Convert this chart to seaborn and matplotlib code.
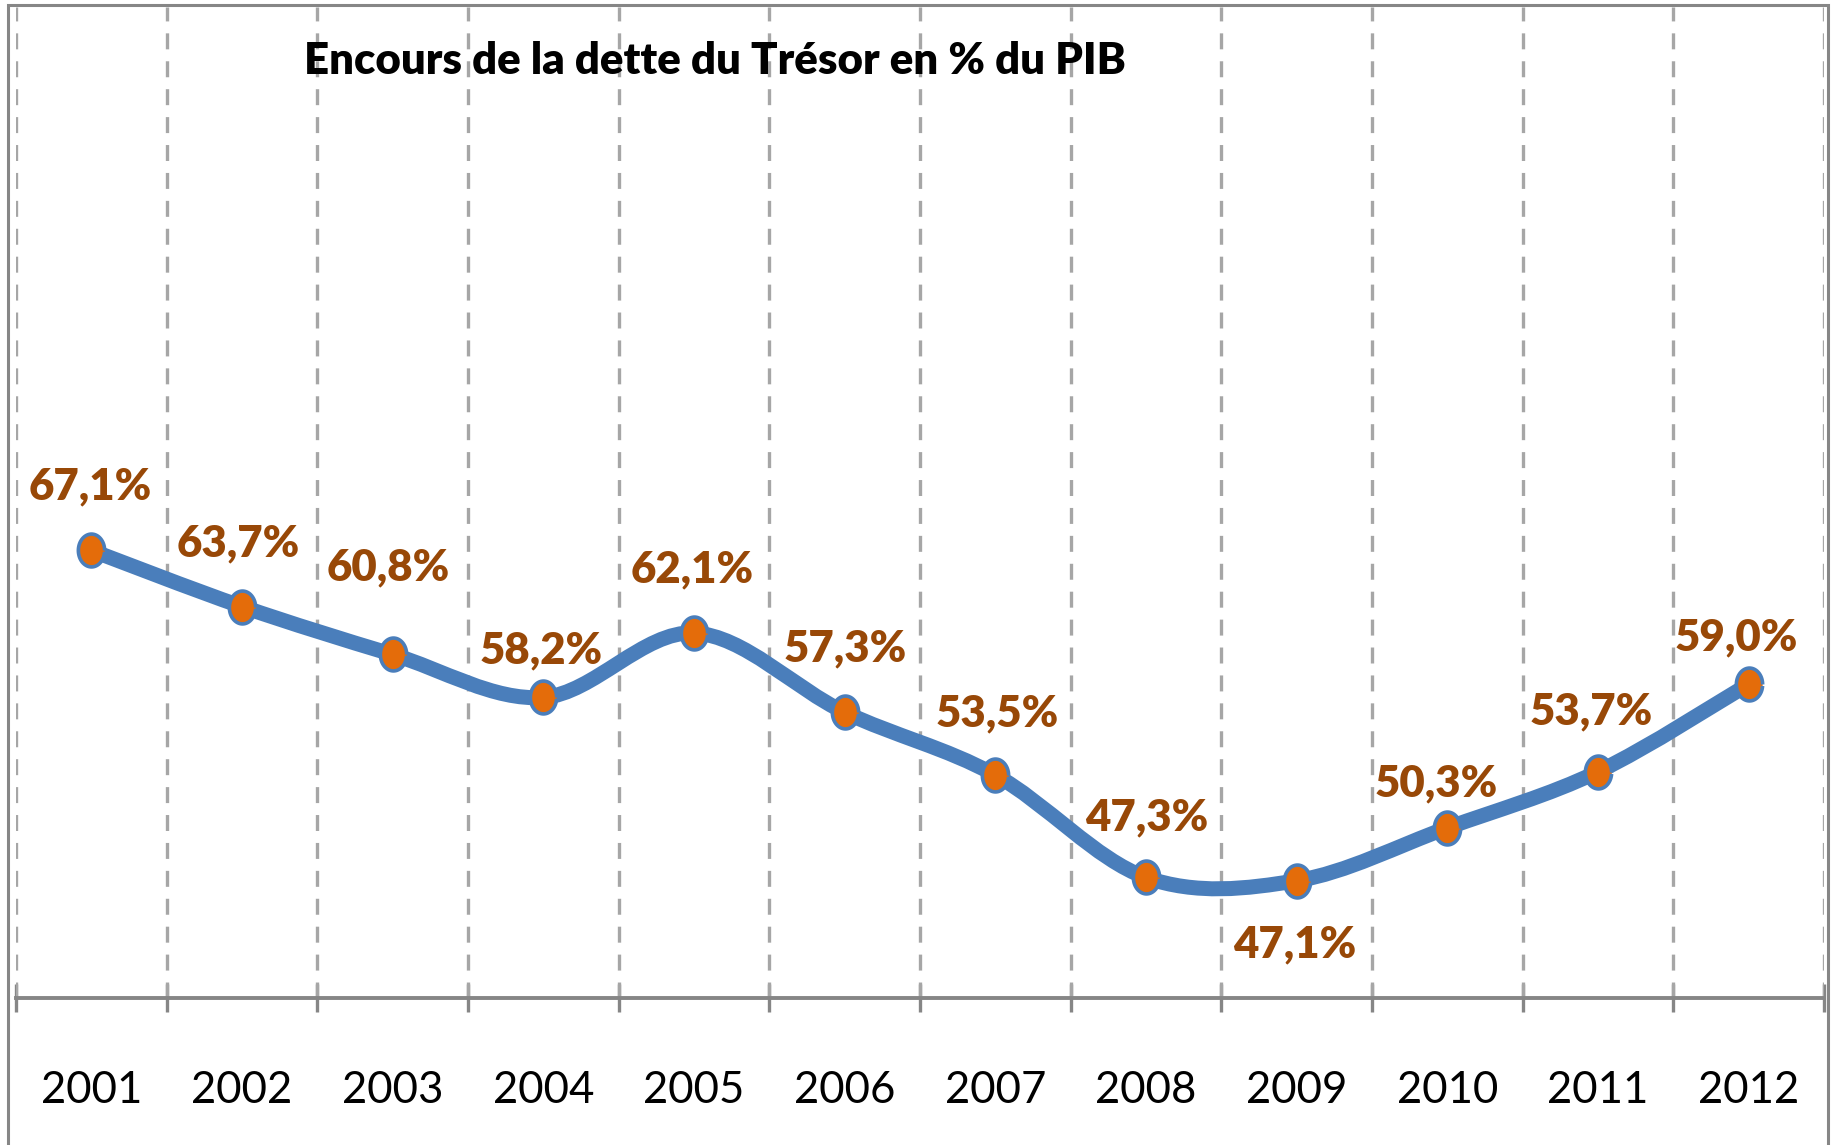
import numpy as np
import pandas as pd
import matplotlib
matplotlib.use("Agg")
import matplotlib.pyplot as plt
import seaborn as sns
from matplotlib.path import Path
from matplotlib.patches import PathPatch, Rectangle

# ---- data ----
years = ["2001", "2002", "2003", "2004", "2005", "2006",
         "2007", "2008", "2009", "2010", "2011", "2012"]
debt_pct = [67.1, 63.7, 60.8, 58.2, 62.1, 57.3, 53.5, 47.3, 47.1, 50.3, 53.7, 59.0]
value_labels = ["67,1%", "63,7%", "60,8%", "58,2%", "62,1%", "57,3%",
                "53,5%", "47,3%", "47,1%", "50,3%", "53,7%", "59,0%"]
title_text = "Encours de la dette du Trésor en % du PIB"

# label offsets in pixels (manual placement as in the original)
label_dx = [-1, -4, -4, -2, -2, 1, 2, 1, -2, -11, -7, -12]
label_dy = [64, 63, 87, 47, 64, 64, 62, 60, -64, 44, 60, 47]

df = pd.DataFrame({"x": np.arange(len(years)), "year": years, "val": debt_pct})

sns.set_theme(style="white")
plt.rcParams["font.family"] = ["Lato", "DejaVu Sans"]
plt.rcParams["lines.scale_dashes"] = False

W, H = 1835, 1145
fig = plt.figure(figsize=(W / 100, H / 100), dpi=100)
ax = fig.add_axes([16 / W, 147 / H, (1824 - 16) / W, (998 - 7) / H])

LINE_BLUE = "#4A7EBB"
ORANGE = "#E46C0A"
LABEL_BROWN = "#984807"
GRID_GRAY = "#A6A6A6"
AXIS_GRAY = "#868686"

ax.set_xlim(-0.5, len(years) - 0.5)
ax.set_ylim(40, 100)

# smoothed line (Catmull-Rom style Bezier through data points, like Excel)
xs = df["x"].to_numpy(dtype=float)
ys = df["val"].to_numpy(dtype=float)
verts = [(xs[0], ys[0])]
codes = [Path.MOVETO]
n = len(xs)
for i in range(n - 1):
    p0 = (xs[max(i - 1, 0)], ys[max(i - 1, 0)])
    p1 = (xs[i], ys[i])
    p2 = (xs[i + 1], ys[i + 1])
    p3 = (xs[min(i + 2, n - 1)], ys[min(i + 2, n - 1)])
    c1 = (p1[0] + (p2[0] - p0[0]) / 6, p1[1] + (p2[1] - p0[1]) / 6)
    c2 = (p2[0] - (p3[0] - p1[0]) / 6, p2[1] - (p3[1] - p1[1]) / 6)
    verts += [c1, c2, p2]
    codes += [Path.CURVE4] * 3
patch = PathPatch(Path(verts, codes), facecolor="none", edgecolor=LINE_BLUE,
                  lw=10.8, capstyle="round", joinstyle="round", zorder=3)
ax.add_patch(patch)

# slightly tall elliptical marker (the original picture is stretched vertically)
t = np.linspace(0, 2 * np.pi, 73)[:-1]
ell = Path(np.column_stack([0.8 * np.cos(t), np.sin(t)]))
ax_markers = sns.scatterplot(data=df, x="x", y="val", ax=ax, s=560, marker=ell,
                             color=ORANGE, edgecolor=LINE_BLUE, linewidth=2.6,
                             zorder=4, legend=False)

for i, lab in enumerate(value_labels):
    ax.annotate(lab, (xs[i], ys[i]), xytext=(label_dx[i], label_dy[i]),
                textcoords="offset pixels", ha="center", va="center",
                fontsize=31.5, fontweight="heavy", color=LABEL_BROWN, zorder=5)

# axes styling
for s in ["top", "right", "left"]:
    ax.spines[s].set_visible(False)
ax.spines["bottom"].set_color(AXIS_GRAY)
ax.spines["bottom"].set_linewidth(2.8)

bounds = np.arange(-0.5, len(years), 1.0)
ax.set_xticks(bounds)
ax.set_xticklabels([])
ax.set_xticks(np.arange(len(years)), minor=True)
ax.set_xticklabels(years, minor=True)
ax.tick_params(axis="x", which="major", direction="inout", length=20,
               width=2.4, color=AXIS_GRAY, bottom=True)
ax.tick_params(axis="x", which="minor", length=0, pad=52, labelsize=31.5,
               labelcolor="black")
ax.set_yticks([])
ax.set_xlabel("")
ax.set_ylabel("")
ax.grid(False)
for b in bounds:
    ax.axvline(b, color=GRID_GRAY, lw=2.4, linestyle=(0, (11.5, 8.6)), zorder=1)

fig.text(715 / W, 1 - 61 / H, title_text, ha="center", va="center",
         fontsize=31.5, fontweight="heavy", color="black")

# chart-area frame
fig.patches.append(Rectangle((8 / W, -0.05), (1828 - 8) / W, 1.05 - 5 / H,
                             transform=fig.transFigure, fill=False,
                             edgecolor=AXIS_GRAY, lw=2.2, clip_on=False))

fig.savefig("out.png", dpi=100, facecolor="white")
